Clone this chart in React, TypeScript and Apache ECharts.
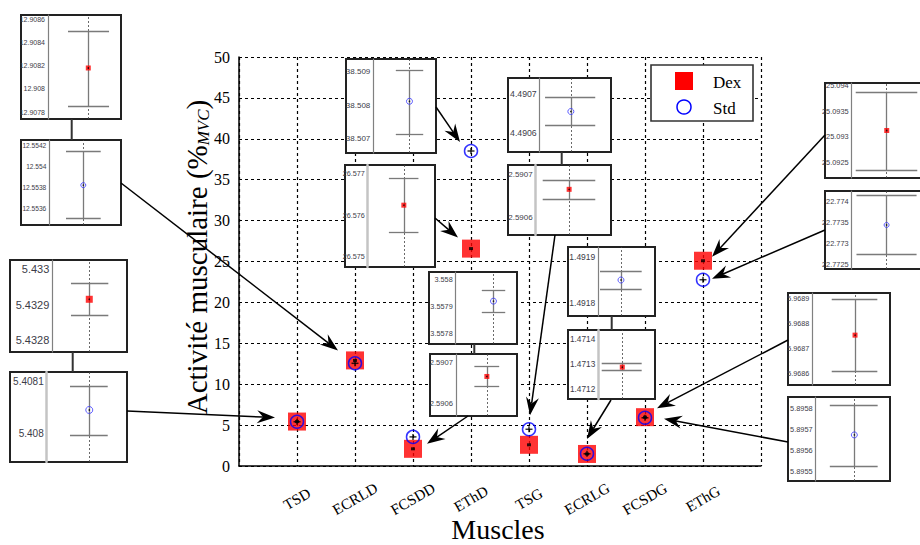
import React, { useEffect, useRef } from 'react';
import * as echarts from 'echarts';

// ---------------- DATA ----------------
const categories = ['TSD', 'ECRLD', 'FCSDD', 'EThD', 'TSG', 'ECRLG', 'FCSDG', 'EThG'];
const dexValues = [5.4329, 12.9082, 2.1, 26.576, 2.5907, 1.4713, 5.9688, 25.093];
const stdValues = [5.408, 12.5538, 3.5579, 38.508, 4.4907, 1.4918, 5.8957, 22.7735];

// zoomed insets (one per series/muscle)
const insetSeries = ['Dex', 'Std', 'Dex', 'Std', 'Std', 'Dex', 'Std', 'Dex', 'Std', 'Dex', 'Std', 'Dex', 'Dex', 'Std', 'Dex', 'Std'];
const insetMuscle = ['ECRLD', 'ECRLD', 'TSD', 'TSD', 'EThD', 'EThD', 'FCSDD', 'FCSDD', 'TSG', 'TSG', 'ECRLG', 'ECRLG', 'EThG', 'EThG', 'FCSDG', 'FCSDG'];
const insetValues = [12.90818, 12.55382, 5.432915, 5.408046, 38.50812, 26.57624, 3.557919, 2.590665, 4.490655, 2.590665, 1.49185, 1.471288, 25.09312, 22.77344, 5.968754, 5.895676];
const insetLow = [12.90785, 12.5535, 5.43287, 5.407998, 38.50714, 26.57557, 3.557879, 2.590642, 4.49062, 2.590642, 1.49183, 1.471274, 25.09234, 22.77274, 5.968611, 5.895524];
const insetHigh = [12.9085, 12.55414, 5.432961, 5.408091, 38.50905, 26.5769, 3.55796, 2.590689, 4.49069, 2.590687, 1.49187, 1.471304, 25.09388, 22.77416, 5.968897, 5.895817];
const insetTicks = [
  ['12.9078', '12.908', '12.9082', '12.9084', '12.9086'],
  ['12.5536', '12.5538', '12.554', '12.5542'],
  ['5.4328', '5.4329', '5.433'],
  ['5.408', '5.4081'],
  ['38.507', '38.508', '38.509'],
  ['26.575', '26.576', '26.577'],
  ['3.5578', '3.5579', '3.558'],
  ['2.5906', '2.5907'],
  ['4.4906', '4.4907'],
  ['2.5906', '2.5907'],
  ['1.4918', '1.4919'],
  ['1.4712', '1.4713', '1.4714'],
  ['25.0925', '25.093', '25.0935', '25.094'],
  ['22.7725', '22.773', '22.7735', '22.774'],
  ['5.9686', '5.9687', '5.9688', '5.9689'],
  ['5.8955', '5.8956', '5.8957', '5.8958'],
];
const insetMin = [12.90774, 12.55344, 5.432766, 5.407946, 38.506584, 26.574733, 3.5577623, 2.5905692, 4.4905528, 2.5905588, 1.4917707, 1.47116, 25.092187, 22.77238, 5.9685564, 5.8954555];
const insetMax = [12.908637, 12.55425, 5.433026, 5.408119, 38.509377, 26.577219, 3.5580256, 2.5907194, 4.4907396, 2.5907216, 1.4919227, 1.4714372, 25.094053, 22.774258, 5.968921, 5.8958574];

// ---------------- LAYOUT ----------------
// [boxLeft, boxTop, boxRight, boxBottom, axisX]
const insetBoxes = [
  [21, 15, 121, 119, 48],
  [21, 140, 121, 225, 49.3],
  [10, 260, 127, 352, 52.3],
  [10, 372, 127, 462, 46.7],
  [346, 59, 436, 153, 373.3],
  [345, 165, 435, 267, 367.7],
  [429, 272, 517, 344, 455.7],
  [430, 354, 517, 416, 456],
  [508, 78, 611, 152, 539.7],
  [508, 165, 611, 235, 535.7],
  [568, 247, 655, 316, 598.3],
  [568, 330, 655, 399, 598.3],
  [825, 83, 926, 178, 851.7],
  [825, 191, 926, 269, 851.7],
  [788, 293, 890, 385, 812.3],
  [788, 397, 890, 481, 815.7],
];
const insetPointX = [0.552, 0.474, 0.495, 0.53, 0.577, 0.537, 0.616, 0.506, 0.437, 0.444, 0.40, 0.423, 0.513, 0.511, 0.55, 0.52];
const insetCaps = [
  [0.274, 0.836], [0.233, 0.717], [0.25, 0.75], [0.29, 0.76], [0.359, 0.796], [0.315, 0.754],
  [0.426, 0.808], [0.301, 0.708], [0.075, 0.779], [0.093, 0.791], [0.03, 0.765], [0.06, 0.765],
  [0.059, 0.96], [0.07, 0.95], [0.25, 0.837], [0.19, 0.834],
];
const insetFont = [7, 6.6, 11, 10, 8, 7.2, 7.3, 7.6, 8.7, 8, 8.5, 8.3, 7.4, 7.4, 7.2, 7.4];
const insetMarker = [5, 5, 7, 7, 6, 5, 6, 5, 6, 5, 6, 5, 5, 5, 5, 6];
const insetAxisLight = [false, false, false, true, false, true, false, false, false, true, false, true, false, false, false, false];

// connectors between paired insets: [x, y1, y2]
const connectors = [[71.7, 119, 140], [72.7, 352, 372], [474.3, 344, 354], [561.7, 152, 165], [611.7, 316, 330]];

// arrows: start pixel, target (category index, series), tip offset from target in px
const arrowFrom = [[121, 183], [127, 411], [436, 107], [435, 218], [468, 416], [555, 235], [611, 400], [825, 135], [825, 230], [788, 340], [788, 442]];
const arrowTarget = [[1, 'Dex'], [0, 'Dex'], [3, 'Std'], [3, 'Dex'], [2, 'Dex'], [4, 'Std'], [5, 'Dex'], [7, 'Dex'], [7, 'Std'], [6, 'Dex'], [6, 'Std']];
const arrowOffset = [[-17, -10], [-22, -4], [-11, -9], [-13, -11], [14, -5], [1, -14], [0, -15], [9, -4], [9, -1], [12, -9], [19, 1]];

const MAIN = { left: 239, top: 57, width: 522, height: 409 };
const SERIF = 'Liberation Serif';
const SANS = 'Liberation Sans';

function arrowElems(S: number[], T: number[]) {
  const dx = T[0] - S[0];
  const dy = T[1] - S[1];
  const len = Math.hypot(dx, dy);
  const ux = dx / len, uy = dy / len;
  const nx = -uy, ny = ux;
  const L = 18, Wd = 6.5, inner = 12;
  const base = [T[0] - inner * ux, T[1] - inner * uy];
  return [
    { type: 'line', z: 20, silent: true, shape: { x1: S[0], y1: S[1], x2: base[0], y2: base[1] }, style: { stroke: '#000', lineWidth: 1.5 } },
    {
      type: 'polygon', z: 20, silent: true,
      shape: { points: [T, [T[0] - L * ux + Wd * nx, T[1] - L * uy + Wd * ny], base, [T[0] - L * ux - Wd * nx, T[1] - L * uy - Wd * ny]] },
      style: { fill: '#000' },
    },
  ];
}

function buildOption() {
  const grids: any[] = [{ ...MAIN }];
  const xAxes: any[] = [
    {
      type: 'value', gridIndex: 0, min: 0, max: 9, interval: 1,
      axisLine: { show: true, onZero: false, lineStyle: { color: '#000', width: 1.5 } },
      axisTick: { show: false },
      splitLine: { show: true, lineStyle: { color: '#000', type: [3, 3], width: 1.2 } },
      axisLabel: {
        formatter: (v: number) => categories[v - 1] ?? '',
        rotate: 30, align: 'center', verticalAlign: 'middle', margin: 33,
        fontFamily: SERIF, fontSize: 15, color: '#000',
      },
    },
  ];
  const yAxes: any[] = [
    {
      type: 'value', gridIndex: 0, min: 0, max: 50, interval: 5,
      axisLine: { show: true, onZero: false, lineStyle: { color: '#000', width: 1.5 } },
      axisTick: { show: false },
      splitLine: { show: true, lineStyle: { color: '#000', type: [3, 3], width: 1.2 } },
      axisLabel: { fontFamily: SERIF, fontSize: 16, color: '#000', margin: 9 },
    },
  ];
  const series: any[] = [
    {
      type: 'scatter', name: 'Dex', xAxisIndex: 0, yAxisIndex: 0, z: 2,
      data: dexValues.map((v, i) => [i + 1, v]), symbol: 'rect', symbolSize: 18,
      itemStyle: { color: '#ff0000' },
    },
    {
      type: 'scatter', name: 'Std', xAxisIndex: 0, yAxisIndex: 0, z: 3,
      data: stdValues.map((v, i) => [i + 1, v]), symbol: 'circle', symbolSize: 13,
      itemStyle: { color: 'rgba(0,0,0,0)', borderColor: '#0000ff', borderWidth: 1.5 },
    },
    {
      type: 'scatter', xAxisIndex: 0, yAxisIndex: 0, z: 4, silent: true,
      data: dexValues.map((v, i) => [i + 1, v]), symbol: 'rect', symbolSize: [4, 3],
      itemStyle: { color: '#000' },
    },
    {
      type: 'scatter', xAxisIndex: 0, yAxisIndex: 0, z: 4, silent: true,
      data: stdValues.map((v, i) => [i + 1, v]), symbol: 'rect', symbolSize: [7, 1.5],
      itemStyle: { color: '#000' },
    },
    {
      type: 'scatter', xAxisIndex: 0, yAxisIndex: 0, z: 4, silent: true,
      data: stdValues.map((v, i) => [i + 1, v]), symbol: 'rect', symbolSize: [1.5, 6],
      itemStyle: { color: '#000' },
    },
  ];

  const boxes: any[] = [];
  insetBoxes.forEach((b, i) => {
    const [bl, bt, br, bb, ax] = b;
    const gi = i + 1;
    grids.push({ left: ax, top: bt, width: br - ax, height: bb - bt });
    xAxes.push({ type: 'value', gridIndex: gi, min: 0, max: 1, show: false });
    const labels = insetTicks[i];
    const nums = labels.map((s) => parseFloat(s));
    const light = insetAxisLight[i];
    yAxes.push({
      type: 'value', gridIndex: gi, min: insetMin[i], max: insetMax[i], z: 4,
      axisLine: { show: true, onZero: false, lineStyle: { color: light ? '#c4c4c4' : '#808080', width: light ? 2.5 : 1.2 } },
      axisTick: { show: false },
      splitLine: { show: false },
      axisLabel: {
        customValues: nums,
        formatter: (v: number) => {
          const k = nums.findIndex((n) => Math.abs(n - v) < 1e-9);
          return k >= 0 ? labels[k] : '';
        },
        fontFamily: SANS, fontSize: insetFont[i], color: '#3c3c48', margin: 3,
      },
    });
    const px = insetPointX[i];
    const [cl, cr] = insetCaps[i];
    const dotted = { color: '#444', type: [2, 2], width: 0.8 };
    const barStyle = { color: '#7a7a7a', type: 'solid', width: 1.3 };
    const mlData: any[] = [
      ...nums.map((n) => ({ yAxis: n, lineStyle: dotted })),
      { xAxis: px, lineStyle: dotted },
      [{ coord: [px, insetLow[i]], lineStyle: barStyle }, { coord: [px, insetHigh[i]] }],
      [{ coord: [cl, insetHigh[i]], lineStyle: barStyle }, { coord: [cr, insetHigh[i]] }],
      [{ coord: [cl, insetLow[i]], lineStyle: barStyle }, { coord: [cr, insetLow[i]] }],
    ];
    const isDex = insetSeries[i] === 'Dex';
    series.push({
      type: 'scatter', name: insetSeries[i] + ' ' + insetMuscle[i], xAxisIndex: gi, yAxisIndex: gi, z: 7,
      data: [[px, insetValues[i]]],
      symbol: isDex ? 'rect' : 'circle', symbolSize: insetMarker[i],
      itemStyle: isDex ? { color: '#ff0000' } : { color: 'rgba(0,0,0,0)', borderColor: '#3a3aff', borderWidth: 1 },
      markLine: {
        silent: true, symbol: ['none', 'none'], label: { show: false }, z: 5,
        emphasis: { disabled: true },
        data: mlData,
      },
    });
    series.push({
      type: 'scatter', xAxisIndex: gi, yAxisIndex: gi, z: 8, silent: true,
      data: [[px, insetValues[i]]], symbol: 'circle', symbolSize: 1.6, itemStyle: { color: '#000' },
    });
    boxes.push({
      type: 'rect', z: 3, silent: true,
      shape: { x: bl, y: bt, width: br - bl, height: bb - bt },
      style: { fill: '#fff', stroke: '#222', lineWidth: 2 },
    });
  });

  connectors.forEach((c) => {
    boxes.push({ type: 'line', z: 3, silent: true, shape: { x1: c[0], y1: c[1], x2: c[0], y2: c[2] }, style: { stroke: '#333', lineWidth: 2 } });
  });

  // legend
  boxes.push(
    { type: 'rect', z: 9, shape: { x: 651, y: 65, width: 102, height: 56 }, style: { fill: '#fff', stroke: '#333', lineWidth: 1.6 } },
    { type: 'rect', z: 10, shape: { x: 675, y: 72, width: 18, height: 18 }, style: { fill: '#ff0000' } },
    { type: 'circle', z: 10, shape: { cx: 684, cy: 107, r: 7 }, style: { fill: 'none', stroke: '#0000ff', lineWidth: 1.5 } },
    { type: 'text', z: 10, x: 713, y: 82, style: { text: 'Dex', fontFamily: SERIF, fontSize: 17, fill: '#000', textVerticalAlign: 'middle' } },
    { type: 'text', z: 10, x: 713, y: 108, style: { text: 'Std', fontFamily: SERIF, fontSize: 17, fill: '#000', textVerticalAlign: 'middle' } },
  );

  // axis titles
  boxes.push(
    {
      type: 'text', z: 10, x: 197, y: 257, rotation: Math.PI / 2,
      style: {
        text: 'Activité musculaire (%{s|MVC})',
        fontFamily: SERIF, fontSize: 29, fill: '#000', textAlign: 'center', textVerticalAlign: 'middle',
        rich: { s: { fontFamily: SERIF, fontSize: 17, fontStyle: 'italic', fill: '#000', verticalAlign: 'bottom', lineHeight: 12 } },
      },
    },
    {
      type: 'text', z: 10, x: 498, y: 529,
      style: { text: 'Muscles', fontFamily: SERIF, fontSize: 28, fill: '#000', textAlign: 'center', textVerticalAlign: 'middle' },
    },
  );

  return {
    animation: false,
    backgroundColor: '#fff',
    grid: grids,
    xAxis: xAxes,
    yAxis: yAxes,
    series,
    graphic: { elements: boxes },
  };
}

export default function App() {
  const ref = useRef<HTMLDivElement>(null);
  useEffect(() => {
    if (!ref.current) return;
    const chart = echarts.init(ref.current, undefined, { renderer: 'svg' });
    const option: any = buildOption();
    chart.setOption(option);
    const arrows: any[] = [];
    arrowFrom.forEach((S, k) => {
      const [cat, s] = arrowTarget[k];
      const v = s === 'Dex' ? dexValues[cat as number] : stdValues[cat as number];
      const p = chart.convertToPixel({ xAxisIndex: 0, yAxisIndex: 0 }, [(cat as number) + 1, v]) as number[];
      const T = [p[0] + arrowOffset[k][0], p[1] + arrowOffset[k][1]];
      arrows.push(...arrowElems(S, T));
    });
    chart.setOption({ graphic: { elements: [...option.graphic.elements, ...arrows] } });
    return () => chart.dispose();
  }, []);
  return <div ref={ref} style={{ position: 'absolute', left: 0, top: 0, width: 920, height: 545, background: '#fff' }} />;
}
